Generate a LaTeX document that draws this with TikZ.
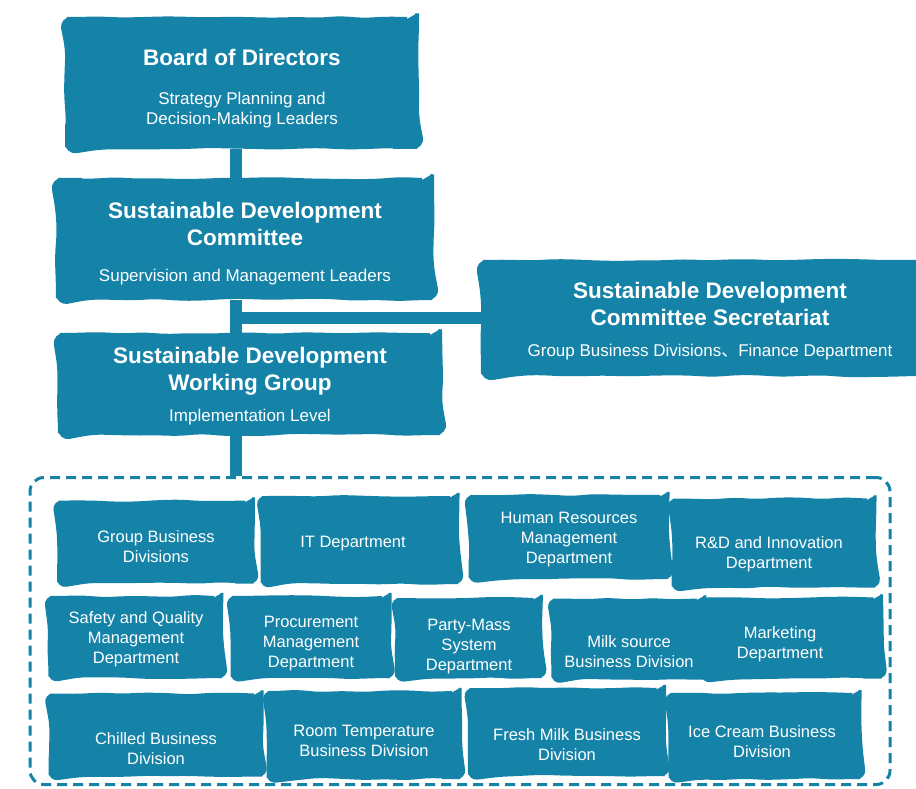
\documentclass[tikz,border=0pt]{standalone}
\usepackage{fontspec}
\setmainfont{Liberation Sans}
\newfontfamily\cjk{Noto Sans CJK SC}
\usetikzlibrary{decorations.pathmorphing}
\definecolor{orgblue}{HTML}{1583A8}
\newcommand{\subline}{\normalfont\fontsize{17}{20}\selectfont}

\begin{document}
\begin{tikzpicture}[
        x=1pt, y=-1pt,
        sketchy/.style={
            decorate, decoration={random steps, segment length=22pt, amplitude=1.2pt}
        },
        bigbox/.style={
            fill=orgblue, draw=orgblue, line width=4pt, rounded corners=10pt,
            text=white, align=flush center, inner sep=0pt, sketchy,
            font=\bfseries\fontsize{22.5}{27}\selectfont
        },
        smallbox/.style 2 args={
            fill=orgblue, draw=orgblue, line width=3pt, rounded corners=8pt,
            text=white, align=flush center, inner sep=0pt, sketchy,
            minimum width=#1, text width=#1, minimum height=#2,
            font=\fontsize{16.5}{20}\selectfont
        },
        drop/.style={
            execute at begin node={\rule{0pt}{#1}}
        },
        nudge/.style={
            execute at begin node={\rightskip=#1 plus 1fil}
        },
        framebox/.style={
            draw=orgblue, line width=3pt, rounded corners=14pt,
            dash pattern=on 10pt off 6pt
        },
        link/.style={
            draw=orgblue, line width=12pt
        }
    ]
    \useasboundingbox (0,0) rectangle (916,789);

    % leading bodies
    \node[bigbox, minimum width=350pt, minimum height=128pt, text width=330pt, drop=28pt] (board) at (242,83)
        {Board of Directors\par\vspace{19pt}{\subline Strategy Planning and\\Decision-Making Leaders\par}};
    \node[bigbox, minimum width=374pt, minimum height=118pt, text width=350pt, drop=26pt] (sdc) at (245,239)
        {Sustainable Development\\Committee\par\vspace{16pt}{\subline Supervision and Management Leaders\par}};
    \node[bigbox, minimum width=380pt, minimum height=98pt, text width=360pt, drop=20.5pt] (sdwg) at (250,384)
        {Sustainable Development\\Working Group\par\vspace{11pt}{\subline Implementation Level\par}};
    \node[bigbox, minimum width=454pt, minimum height=112pt, text width=420pt, drop=22.5pt] (sec) at (710,318)
        {Sustainable Development\\Committee Secretariat\par\vspace{11pt}{\subline Group Business Divisions{\cjk 、}Finance Department\par}};

    % departments
    \node[framebox, minimum width=860pt, minimum height=307pt] (frame) at (460,631) {};

    \node[smallbox={195pt}{80pt}, drop=21pt] (gbd) at (156,542) {Group Business\\Divisions};
    \node[smallbox={196pt}{85pt}, drop=19pt, nudge=14pt] (itd) at (360,540) {IT Department};
    \node[smallbox={198pt}{81pt}, drop=17pt] (hrm) at (569,537) {Human Resources\\Management\\Department};
    \node[smallbox={202pt}{86pt}, drop=35pt, nudge=10pt] (rnd) at (774,543) {R\&D and Innovation\\Department};

    \node[smallbox={172pt}{79pt}, drop=17pt] (saf) at (136,637) {Safety and Quality\\Management\\Department};
    \node[smallbox={158pt}{79pt}, drop=25pt] (pro) at (311,637) {Procurement\\Management\\Department};
    \node[smallbox={145pt}{77pt}, drop=29pt] (pms) at (469,638) {Party-Mass\\System\\Department};
    \node[smallbox={152pt}{78pt}, drop=37pt] (mil) at (629,639) {Milk source\\Business Division};
    \node[smallbox={179pt}{78pt}, drop=25pt, nudge=24pt] (mkt) at (792,638) {Marketing\\Department};

    \node[smallbox={212pt}{80pt}, drop=39pt] (chi) at (156,735) {Chilled Business\\Division};
    \node[smallbox={192pt}{85pt}, drop=23pt] (rmt) at (364,735) {Room Temperature\\Business Division};
    \node[smallbox={195pt}{85pt}, drop=37pt] (frm) at (567,732) {Fresh Milk Business\\Division};
    \node[smallbox={190pt}{83pt}, drop=23pt, nudge=6pt] (ice) at (765,736) {Ice Cream Business\\Division};

    % links
    \coordinate (junc) at (236,318);
    \draw[link] (board.south -| junc) -- (sdc.north -| junc);
    \draw[link] (sdc.south -| junc) -- (sdwg.north -| junc);
    \draw[link] (sdwg.south -| junc) -- (frame.north -| junc);
    \draw[link] (junc) -- (sec);
\end{tikzpicture}
\end{document}
